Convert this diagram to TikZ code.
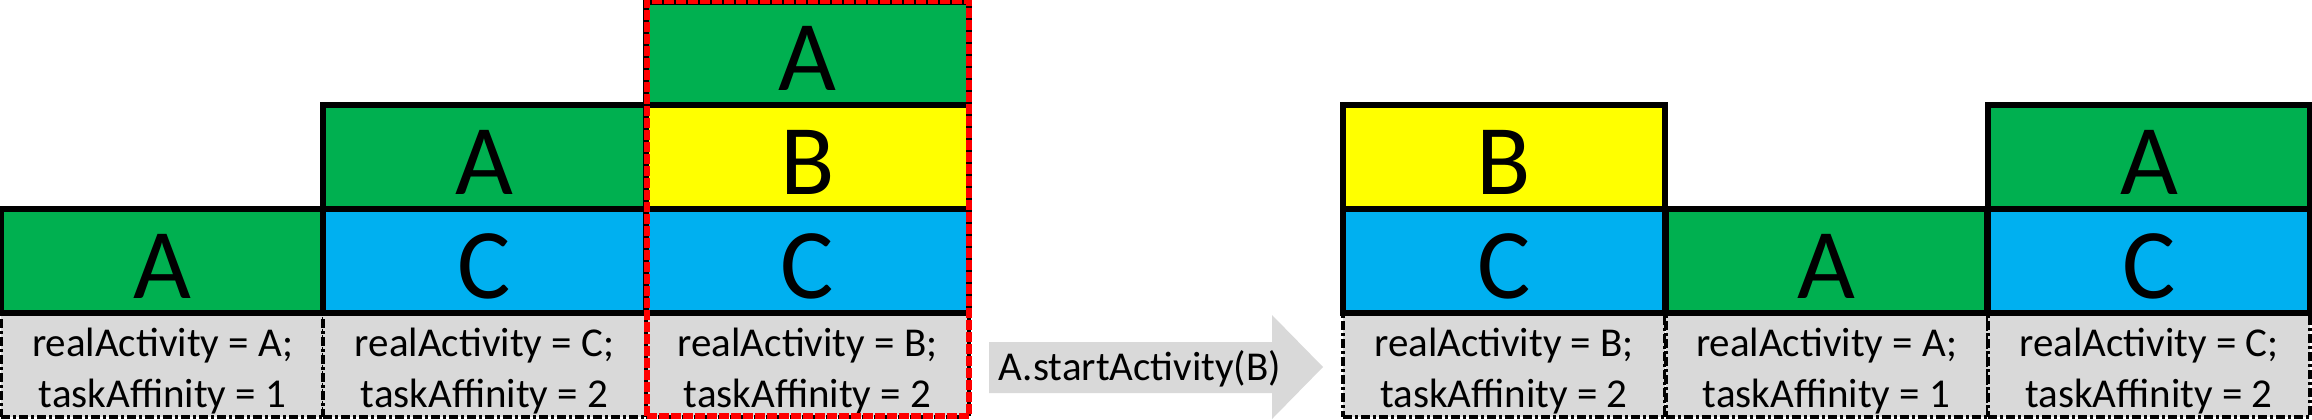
\documentclass[tikz,border=0pt]{standalone}
\usepackage{fontspec}
\setmainfont{Carlito}
\definecolor{ogreen}{HTML}{00B050}
\definecolor{oyellow}{HTML}{FFFF00}
\definecolor{oblue}{HTML}{00B0F0}
\definecolor{ogray}{HTML}{D9D9D9}
\begin{document}
\begin{tikzpicture}[x=0.5pt,y=-0.5pt,
  actbox/.style={draw=black, line width=3.1pt, minimum height=52pt, inner sep=0pt,
    font=\fontsize{50}{60}\selectfont, text height=37pt, text depth=0pt},
  wide/.style={minimum width=161.5pt},
  narrow/.style={minimum width=161pt},
  infobox/.style={fill=ogray, draw=black, line width=2pt, minimum height=52pt, inner sep=0pt,
    dash pattern=on 4.5pt off 1.5pt on 1.5pt off 1.5pt},
  infotext/.style={anchor=base, inner sep=0pt, font=\fontsize{20.5}{24}\selectfont},
  redframe/.style={draw=red, line width=3pt, dash pattern=on 5pt off 1pt, inner sep=0pt}
]
\useasboundingbox (0,0) rectangle (2312,419);

% ---------- left group: info boxes ----------
\node[infobox, wide] (g1) at (162.5,365) {};
\node[infobox, wide] (g2) at (484.5,365) {};
\node[infobox, wide] (g3) at (807.5,365) {};
\node[infotext] (g1a) at (162.5,356) {realActivity = A;};
\node[infotext] (g1b) at (162.5,407) {taskAffinity = 1};
\node[infotext] (g2a) at (484.5,356) {realActivity = C;};
\node[infotext] (g2b) at (484.5,407) {taskAffinity = 2};
\node[infotext] (g3a) at (807.5,356) {realActivity = B;};
\node[infotext] (g3b) at (807.5,407) {taskAffinity = 2};

% ---------- left group: stacks ----------
\node[actbox, wide, fill=ogreen] (l1a) at (162.5,261) {A};
\node[actbox, wide, fill=ogreen] (l2a) at (484.5,157) {A};
\node[actbox, wide, fill=oblue]  (l2c) at (484.5,261) {C};
\node[actbox, wide, fill=ogreen] (l3a) at (807.5,53.5) {A};
\node[actbox, wide, fill=oyellow] (l3b) at (807.5,157) {B};
\node[actbox, wide, fill=oblue]  (l3c) at (807.5,261) {C};

\node[redframe, minimum width=161pt, minimum height=207.5pt] (sel) at (808,208.5) {};

% ---------- arrow ----------
\fill[ogray] (989,342) -- (1272,342) -- (1272,315) -- (1323,367) -- (1272,419)
  -- (1272,393) -- (989,393) -- cycle;
\node[infotext] (call) at (1140,380) {A.startActivity(B)};

% ---------- right group: info boxes ----------
\node[infobox, narrow] (h1) at (1504,365) {};
\node[infobox, narrow] (h2) at (1826.5,365) {};
\node[infobox, narrow] (h3) at (2149,365) {};
\node[infotext] (h1a) at (1504,356) {realActivity = B;};
\node[infotext] (h1b) at (1504,407) {taskAffinity = 2};
\node[infotext] (h2a) at (1826.5,356) {realActivity = A;};
\node[infotext] (h2b) at (1826.5,407) {taskAffinity = 1};
\node[infotext] (h3a) at (2149,356) {realActivity = C;};
\node[infotext] (h3b) at (2149,407) {taskAffinity = 2};

% ---------- right group: stacks ----------
\node[actbox, narrow, fill=oyellow] (r1b) at (1504,157) {B};
\node[actbox, narrow, fill=oblue]   (r1c) at (1504,261) {C};
\node[actbox, narrow, fill=ogreen]  (r2a) at (1826.5,261) {A};
\node[actbox, narrow, fill=ogreen]  (r3a) at (2149,157) {A};
\node[actbox, narrow, fill=oblue]   (r3c) at (2149,261) {C};
\end{tikzpicture}
\end{document}
